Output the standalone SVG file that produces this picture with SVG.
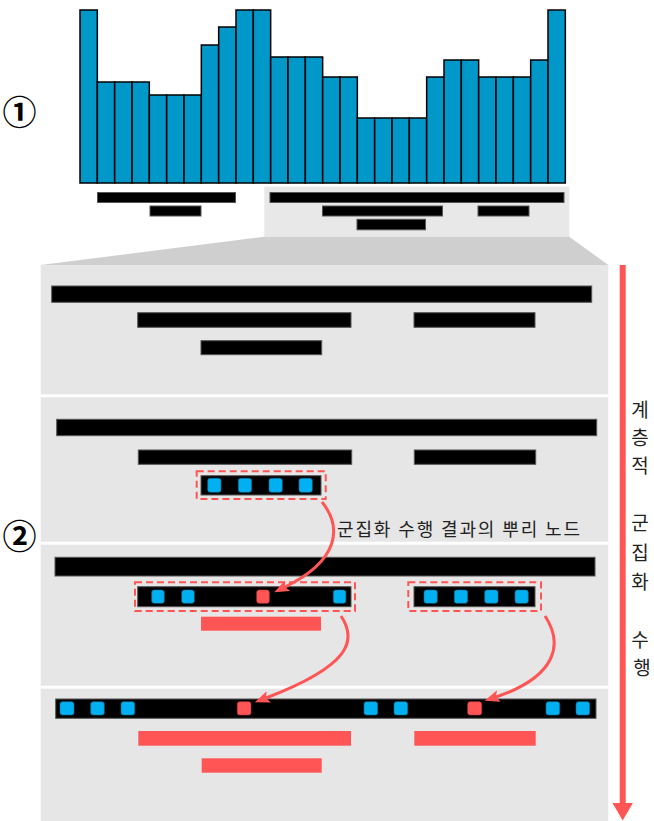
<svg xmlns="http://www.w3.org/2000/svg" width="654" height="821" viewBox="0 0 654 821">
<defs>
<style>
.hb{fill:#0097c9;stroke:#000;stroke-width:1.5}
.bk{fill:#000;stroke:#555;stroke-width:1}
.rb{fill:#ff5555}
.bl{fill:#00b0f0;stroke:#0a6f96;stroke-width:0.6}
.rd{fill:#ff5555;stroke:#c03a3a;stroke-width:0.6}
.dash{fill:none;stroke:#ff5555;stroke-width:2;stroke-dasharray:7 4}
.panel{fill:#e6e6e6}
.arr{fill:none;stroke:#ff5555;stroke-width:3;marker-end:url(#ah)}
.num{font-family:"Noto Sans CJK KR","DejaVu Sans",sans-serif;font-size:34px;font-weight:bold;fill:#000;text-anchor:middle}
.lbl{font-family:"Noto Sans CJK KR","Noto Sans",sans-serif;font-size:18px;fill:#222}
.vt{font-family:"Noto Sans CJK KR","Noto Sans",sans-serif;font-size:19px;fill:#222;text-anchor:middle}
</style>
<marker id="ah" markerUnits="userSpaceOnUse" markerWidth="16" markerHeight="12" refX="3" refY="6" orient="auto">
<path d="M0,0 L15,6 L0,12 L3,6 z" fill="#ff5555"/>
</marker>
</defs>
<rect width="654" height="821" fill="#fff"/>

<g id="histogram">
<rect class="hb" x="80" y="10" width="17.33" height="173"/>
<rect class="hb" x="97.33" y="82" width="17.33" height="101"/>
<rect class="hb" x="114.67" y="82" width="17.33" height="101"/>
<rect class="hb" x="132" y="82" width="17.33" height="101"/>
<rect class="hb" x="149.33" y="95" width="17.33" height="88"/>
<rect class="hb" x="166.67" y="95" width="17.33" height="88"/>
<rect class="hb" x="184" y="95" width="17.33" height="88"/>
<rect class="hb" x="201.33" y="45" width="17.33" height="138"/>
<rect class="hb" x="218.67" y="27" width="17.33" height="156"/>
<rect class="hb" x="236" y="10" width="17.33" height="173"/>
<rect class="hb" x="253.33" y="10" width="17.33" height="173"/>
<rect class="hb" x="270.67" y="57" width="17.33" height="126"/>
<rect class="hb" x="288" y="57" width="17.33" height="126"/>
<rect class="hb" x="305.33" y="57" width="17.33" height="126"/>
<rect class="hb" x="322.67" y="77" width="17.33" height="106"/>
<rect class="hb" x="340" y="77" width="17.33" height="106"/>
<rect class="hb" x="357.33" y="118" width="17.33" height="65"/>
<rect class="hb" x="374.67" y="118" width="17.33" height="65"/>
<rect class="hb" x="392" y="118" width="17.33" height="65"/>
<rect class="hb" x="409.33" y="118" width="17.33" height="65"/>
<rect class="hb" x="426.67" y="77" width="17.33" height="106"/>
<rect class="hb" x="444" y="60" width="17.33" height="123"/>
<rect class="hb" x="461.33" y="60" width="17.33" height="123"/>
<rect class="hb" x="478.67" y="77" width="17.33" height="106"/>
<rect class="hb" x="496" y="77" width="17.33" height="106"/>
<rect class="hb" x="513.33" y="77" width="17.33" height="106"/>
<rect class="hb" x="530.67" y="60" width="17.33" height="123"/>
<rect class="hb" x="548" y="10" width="17.33" height="173"/>
</g>

<g id="label-1"><text class="num" x="19.5" y="125">①</text></g>
<g id="label-2"><text class="num" x="19.5" y="549">②</text></g>

<g id="overview-left">
<rect class="bk" x="97.5" y="192.5" width="138" height="10"/>
<rect class="bk" x="150" y="206" width="51" height="10"/>
</g>

<g id="zoom-region">
<rect x="264.3" y="186.7" width="305" height="50" fill="#e8e8e8"/>
<polygon points="264.3,236.7 569.3,236.7 608.3,265 40.7,265" fill="#d0cfd0"/>
<rect class="bk" x="270" y="192.5" width="294" height="10"/>
<rect class="bk" x="322.5" y="206" width="120" height="10"/>
<rect class="bk" x="478" y="206" width="51" height="10"/>
<rect class="bk" x="357" y="219.3" width="68.5" height="10.5"/>
</g>

<g id="panel">
<rect class="panel" x="40.7" y="265" width="567.6" height="556"/>
<rect x="40.7" y="394.3" width="567.6" height="3" fill="#fff"/>
<rect x="40.7" y="541.7" width="567.6" height="3" fill="#fff"/>
<rect x="40.7" y="685.7" width="567.6" height="3" fill="#fff"/>
</g>

<g id="level-1">
<rect class="bk" x="51.7" y="286" width="540" height="16.3"/>
<rect class="bk" x="137.7" y="312.7" width="213.3" height="14.6"/>
<rect class="bk" x="414" y="312.7" width="121" height="14.6"/>
<rect class="bk" x="201" y="340.7" width="120.7" height="14"/>
</g>

<g id="level-2">
<rect class="bk" x="56.7" y="419.3" width="540" height="16.4"/>
<rect class="bk" x="138.3" y="450" width="213.4" height="14.3"/>
<rect class="bk" x="414.3" y="450" width="121.4" height="14.3"/>
<g id="cluster-2a">
<rect class="bk" x="201" y="475.7" width="120" height="19.3"/>
<rect class="dash" x="196.7" y="471.3" width="129" height="27.7"/>
<rect class="bl" x="207.7" y="478.3" width="13.3" height="14" rx="2.5"/>
<rect class="bl" x="238.3" y="478.3" width="13.3" height="14" rx="2.5"/>
<rect class="bl" x="269" y="478.3" width="13.3" height="14" rx="2.5"/>
<rect class="bl" x="299" y="478.3" width="13.3" height="14" rx="2.5"/>
</g>
</g>

<g id="level-3">
<rect class="bk" x="55" y="557.3" width="540" height="18.7"/>
<g id="cluster-3a">
<rect class="bk" x="137.7" y="586.7" width="213.3" height="20"/>
<rect class="dash" x="135" y="582.3" width="220" height="28.7"/>
<rect class="bl" x="151.7" y="590" width="12.6" height="13.3" rx="2.5"/>
<rect class="bl" x="181.7" y="590" width="12.6" height="13.3" rx="2.5"/>
<rect class="rd" x="256.7" y="590" width="12.6" height="13.3" rx="2.5"/>
<rect class="bl" x="333.3" y="590" width="12.6" height="13.3" rx="2.5"/>
</g>
<g id="cluster-3b">
<rect class="bk" x="414" y="586.7" width="121" height="20"/>
<rect class="dash" x="408.3" y="582.3" width="132.7" height="28.7"/>
<rect class="bl" x="424" y="590" width="13.3" height="13.3" rx="2.5"/>
<rect class="bl" x="454.3" y="590" width="13.3" height="13.3" rx="2.5"/>
<rect class="bl" x="484.7" y="590" width="13.3" height="13.3" rx="2.5"/>
<rect class="bl" x="515" y="590" width="13.3" height="13.3" rx="2.5"/>
</g>
<rect class="rb" x="201" y="616.7" width="120" height="14"/>
</g>

<g id="level-4">
<rect class="bk" x="55.7" y="699" width="540.3" height="19.3"/>
<rect class="bl" x="60" y="701.7" width="14" height="13.3" rx="2.5"/>
<rect class="bl" x="90.7" y="701.7" width="13.6" height="13.3" rx="2.5"/>
<rect class="bl" x="121" y="701.7" width="13.7" height="13.3" rx="2.5"/>
<rect class="rd" x="237.3" y="701.7" width="13.7" height="13.3" rx="2.5"/>
<rect class="bl" x="364" y="701.7" width="13.7" height="13.3" rx="2.5"/>
<rect class="bl" x="394" y="701.7" width="13.7" height="13.3" rx="2.5"/>
<rect class="rd" x="467.7" y="701.7" width="14" height="13.3" rx="2.5"/>
<rect class="bl" x="546" y="701.7" width="13.7" height="13.3" rx="2.5"/>
<rect class="bl" x="576" y="701.7" width="13.7" height="13.3" rx="2.5"/>
<rect class="rb" x="138.3" y="731" width="212.7" height="14.7"/>
<rect class="rb" x="414.3" y="731" width="121.4" height="14.7"/>
<rect class="rb" x="201.7" y="758.3" width="120" height="14.4"/>
</g>

<g id="connectors">
<path class="arr" d="M 322 502 C 342 527, 340 560, 285 587"/>
<path class="arr" d="M 341 616 C 357 640, 352 665, 266 698"/>
<path class="arr" d="M 545 616 C 563 643, 558 676, 496 697"/>
<line x1="622.7" y1="265" x2="622.7" y2="805" stroke="#ff5555" stroke-width="6"/>
<polygon points="612.5,803 632.9,803 622.7,820.5" fill="#ff5555"/>
</g>

<g id="root-label">
<text class="lbl" x="337" y="536" textLength="243" lengthAdjust="spacing">군집화 수행 결과의 뿌리 노드</text>
</g>

<g id="process-label">
<text class="vt">
<tspan x="642" y="417">계</tspan>
<tspan x="642" y="445">층</tspan>
<tspan x="642" y="473">적</tspan>
<tspan x="642" y="530">군</tspan>
<tspan x="642" y="560">집</tspan>
<tspan x="642" y="589">화</tspan>
<tspan x="642" y="647">수</tspan>
<tspan x="642" y="675">행</tspan>
</text>
</g>
</svg>
